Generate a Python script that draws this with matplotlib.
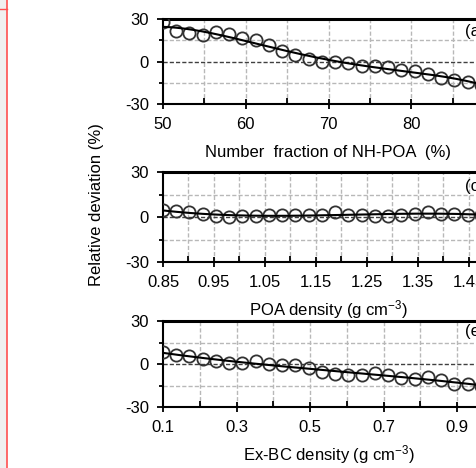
import numpy as np
import matplotlib
matplotlib.use('Agg')
import matplotlib.pyplot as plt
from matplotlib.patches import Rectangle
from matplotlib.lines import Line2D
from matplotlib.ticker import FixedLocator

plt.rcParams['font.family'] = ['Liberation Sans', 'DejaVu Sans']
plt.rcParams['mathtext.default'] = 'regular'

# ---- data ----
# (a) number fraction of NH-POA (%), 26 points from 50 to 90
nh_poa = [50.0, 51.6, 53.2, 54.8, 56.4, 58.0, 59.6, 61.2, 62.8, 64.4, 66.0, 67.6, 69.2,
          70.8, 72.4, 74.0, 75.6, 77.2, 78.8, 80.4, 82.0, 83.6, 85.2, 86.8, 88.4, 90.0]
dev_a = [27.6, 21.6, 19.9, 18.5, 20.9, 19.2, 16.5, 15.1, 12.0, 7.7, 4.8, 1.7, 0.0,
         -0.5, -1.2, -3.1, -3.1, -3.6, -6.0, -6.5, -8.9, -11.3, -13.2, -14.4, -16.5, -18.0]

# (c) POA density (g cm-3), 26 points from 0.85 to 1.50
poa_rho = [0.850, 0.876, 0.902, 0.928, 0.954, 0.980, 1.006, 1.032, 1.058, 1.084, 1.110,
           1.136, 1.162, 1.188, 1.214, 1.240, 1.266, 1.292, 1.318, 1.344, 1.370, 1.396,
           1.422, 1.448, 1.474, 1.500]
dev_c = [4.6, 4.2, 3.1, 2.0, 0.4, -0.2, 0.4, 0.9, 1.1, 1.1, 1.6, 1.6, 1.6, 3.1, 1.6,
         1.1, 0.9, 0.9, 1.6, 2.2, 3.1, 2.0, 2.0, 1.6, 1.6, 1.5]

# (e) Ex-BC density (g cm-3), 26 points from 0.1 to 1.0
bc_rho = [0.100, 0.136, 0.172, 0.208, 0.244, 0.280, 0.316, 0.352, 0.388, 0.424, 0.460,
          0.496, 0.532, 0.568, 0.604, 0.640, 0.676, 0.712, 0.748, 0.784, 0.820, 0.856,
          0.892, 0.928, 0.964, 1.000]
dev_e = [8.3, 6.4, 5.7, 3.3, 2.1, 1.0, 1.0, 2.4, -0.2, -0.7, -0.7, -3.1, -5.5, -6.7,
         -7.4, -7.4, -6.2, -7.4, -9.5, -10.2, -9.0, -11.4, -13.8, -13.8, -15.0, -16.0]

panels = [
    dict(x=nh_poa, y=dev_a, xlim=(50, 90), major=10, minor=5, start=50,
         label='Number  fraction of NH-POA  (%)', tag='(a)', fmt='{:.0f}', deg=4,
         rect=[163, 19, 494, 104], label_y=153, tag_y=0.85),
    dict(x=poa_rho, y=dev_c, xlim=(0.85, 1.50), major=0.1, minor=0.05, start=0.85,
         label='POA density (g cm$^{-3}$)', tag='(c)', fmt='{:.2f}', deg=3,
         rect=[163, 172, 494, 262], label_y=310, tag_y=0.84),
    dict(x=bc_rho, y=dev_e, xlim=(0.1, 1.0), major=0.2, minor=0.1, start=0.1,
         label='Ex-BC density (g cm$^{-3}$)', tag='(e)', fmt='{:.1f}', deg=3,
         rect=[163, 321, 494, 407], label_y=455, tag_y=0.875),
]

W, H = 477, 468
FS = 12
fig = plt.figure(figsize=(W / 100, H / 100), dpi=100)

# cropped-page decoration on the left
fig.patches.append(Rectangle((0, 0), 7 / W, 1, transform=fig.transFigure,
                             facecolor='#f0f0f0', edgecolor='none'))
fig.lines.append(Line2D([7.5 / W, 7.5 / W], [0, 1], transform=fig.transFigure,
                        color='#ff5050', lw=1.2))
fig.lines.append(Line2D([0, 7 / W], [1 - 9 / H, 1 - 9 / H], transform=fig.transFigure,
                        color='#ff5050', lw=1.0))

for p in panels:
    l, t, r, b = p['rect']
    ax = fig.add_axes([l / W, 1 - b / H, (r - l) / W, (b - t) / H])
    x = np.array(p['x'])
    y = np.array(p['y'])

    # grid
    xs = np.arange(p['start'], p['xlim'][1] + 1e-9, p['minor'])
    for xv in xs[1:]:
        ax.axvline(xv, color='#b8b8b8', ls=(0, (3, 1.5)), lw=1.0, zorder=0)
    for yv in (-15, 15):
        ax.axhline(yv, color='#b8b8b8', ls=(0, (3, 1.5)), lw=1.0, zorder=0)
    ax.axhline(0, color='#404040', ls=(0, (3, 1.5)), lw=1.0, zorder=1)

    # data and trend
    ax.plot(x, y, 'o', mfc='none', mec='#333333', mew=1.3, ms=8.8, zorder=3)
    coef = np.polyfit(x, y, p['deg'])
    xf = np.linspace(x.min(), x.max(), 200)
    ax.plot(xf, np.polyval(coef, xf), color='black', lw=1.5, zorder=4)

    ax.set_xlim(*p['xlim'])
    ax.set_ylim(-30, 30)
    majors = np.arange(p['start'], p['xlim'][1] + 1e-9, p['major'])
    ax.xaxis.set_major_locator(FixedLocator(majors))
    ax.xaxis.set_minor_locator(FixedLocator(xs))
    ax.set_xticklabels([p['fmt'].format(v) for v in majors])
    ax.yaxis.set_major_locator(FixedLocator([-30, 0, 30]))
    ax.yaxis.set_minor_locator(FixedLocator([-15, 15]))
    ax.set_yticklabels(['-30', '0', '30'])
    ax.tick_params(which='major', direction='inout', length=7, width=1.3,
                   labelsize=FS, pad=6)
    ax.tick_params(which='minor', direction='in', length=4, width=1.3)
    ax.tick_params(axis='y', which='major', direction='out', length=4, pad=6)
    ax.tick_params(axis='y', which='minor', direction='out', length=3)

    ax.spines['right'].set_visible(False)
    ax.spines['top'].set_linewidth(2.2)
    ax.spines['left'].set_linewidth(1.5)
    ax.spines['bottom'].set_linewidth(1.5)

    ax.text(0.912, p['tag_y'], p['tag'], transform=ax.transAxes, fontsize=FS,
            va='center', ha='left')
    fig.text((l + r) / 2 / W, 1 - p['label_y'] / H, p['label'], fontsize=FS,
             ha='center', va='center')

fig.text(97 / W, 1 - 205 / H, 'Relative deviation (%)', rotation=90,
         fontsize=FS, ha='center', va='center')

fig.savefig('out.png', dpi=100)
